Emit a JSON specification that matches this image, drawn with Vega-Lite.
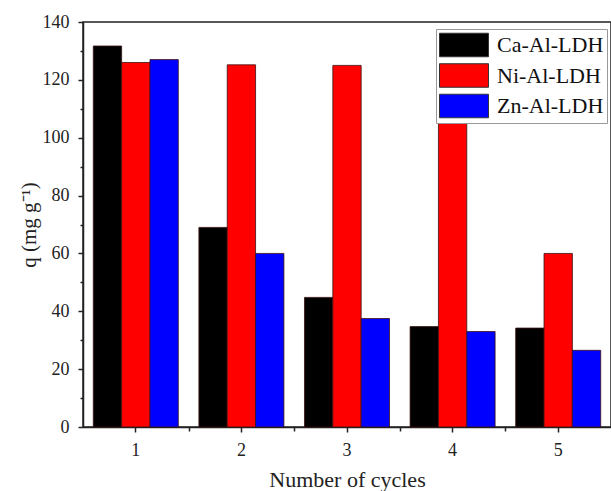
{
  "$schema": "https://vega.github.io/schema/vega-lite/v6.json",
  "width": 528,
  "height": 405,
  "autosize": {"type": "none"},
  "padding": {"left": 83, "top": 22, "right": 0, "bottom": 64},
  "background": "white",
  "config": {
    "font": "Liberation Serif, Times New Roman, serif",
    "view": {"stroke": "#222", "strokeWidth": 1.5},
    "axis": {"grid": false, "domainColor": "#222", "domainWidth": 1.5, "tickColor": "#222", "tickWidth": 1.5, "labelColor": "#222", "titleColor": "#222", "labelFont": "Liberation Serif, Times New Roman, serif", "titleFont": "Liberation Serif, Times New Roman, serif", "titleFontWeight": "normal"}
  },
  "data": {
    "values": [
      {"cycle": 1, "series": "Ca-Al-LDH", "q": 131.7},
      {"cycle": 1, "series": "Ni-Al-LDH", "q": 126},
      {"cycle": 1, "series": "Zn-Al-LDH", "q": 127},
      {"cycle": 2, "series": "Ca-Al-LDH", "q": 69},
      {"cycle": 2, "series": "Ni-Al-LDH", "q": 125.2},
      {"cycle": 2, "series": "Zn-Al-LDH", "q": 60},
      {"cycle": 3, "series": "Ca-Al-LDH", "q": 44.8},
      {"cycle": 3, "series": "Ni-Al-LDH", "q": 125},
      {"cycle": 3, "series": "Zn-Al-LDH", "q": 37.5},
      {"cycle": 4, "series": "Ca-Al-LDH", "q": 34.7},
      {"cycle": 4, "series": "Ni-Al-LDH", "q": 122},
      {"cycle": 4, "series": "Zn-Al-LDH", "q": 33},
      {"cycle": 5, "series": "Ca-Al-LDH", "q": 34.2},
      {"cycle": 5, "series": "Ni-Al-LDH", "q": 60},
      {"cycle": 5, "series": "Zn-Al-LDH", "q": 26.5}
    ]
  },
  "layer": [
    {
      "mark": {"type": "bar", "stroke": "#3a1010", "strokeWidth": 0.8},
      "encoding": {
        "x": {
          "field": "cycle", "type": "ordinal",
          "scale": {"paddingInner": 0.195, "paddingOuter": 0.0975},
          "axis": {"orient": "bottom", "labelAngle": 0, "labelFontSize": 18, "tickSize": 5, "labelPadding": 9, "title": "Number of cycles", "titleFontSize": 22, "titlePadding": 10}
        },
        "xOffset": {"field": "series", "type": "nominal", "sort": ["Ca-Al-LDH", "Ni-Al-LDH", "Zn-Al-LDH"], "scale": {"paddingInner": 0, "paddingOuter": 0}},
        "y": {
          "field": "q", "type": "quantitative",
          "scale": {"domain": [0, 140], "nice": false},
          "axis": {"orient": "left", "values": [0, 20, 40, 60, 80, 100, 120, 140], "labelFontSize": 18, "tickSize": 5, "labelPadding": 9, "title": "q (mg g⁻¹)", "titleFontSize": 21, "titlePadding": 3}
        },
        "color": {
          "field": "series", "type": "nominal",
          "scale": {"domain": ["Ca-Al-LDH", "Ni-Al-LDH", "Zn-Al-LDH"], "range": ["#000000", "#ff0000", "#0000ff"]},
          "legend": {
            "title": null, "orient": "none", "legendX": 353, "legendY": 7,
            "symbolType": "M-2,-0.96H2V0.96H-2Z", "symbolSize": 600, "symbolStrokeColor": "#333", "symbolStrokeWidth": 1, "symbolOffset": 12,
            "labelFontSize": 22, "labelFont": "Liberation Serif, Times New Roman, serif", "labelColor": "#111", "labelOffset": 20,
            "rowPadding": 2.5, "padding": 3, "strokeColor": "#999", "fillColor": "white"
          }
        }
      }
    },
    {
      "mark": {"type": "point", "opacity": 0},
      "encoding": {
        "x": {
          "field": "cycle", "type": "quantitative",
          "scale": {"domain": [0.5, 5.5], "nice": false, "zero": false},
          "axis": {"orient": "bottom", "values": [1.5, 2.5, 3.5, 4.5], "labels": false, "domain": false, "tickSize": 4, "title": null}
        },
        "y": {
          "field": "q", "type": "quantitative",
          "axis": {"orient": "left", "values": [10, 30, 50, 70, 90, 110, 130], "labels": false, "domain": false, "tickSize": 3, "title": null}
        }
      }
    }
  ],
  "resolve": {"scale": {"x": "independent", "xOffset": "independent"}, "axis": {"x": "independent", "y": "independent"}}
}
